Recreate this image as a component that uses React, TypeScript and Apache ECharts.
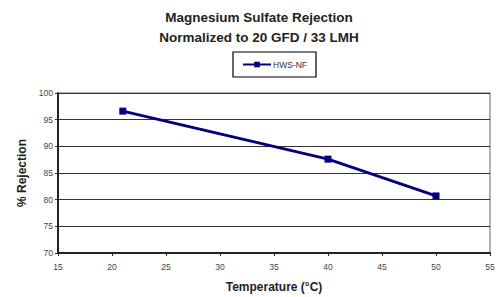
import React, { useEffect, useRef } from "react";
import * as echarts from "echarts";

const seriesName = "HWS-NF";
const temperatures = [21, 40, 50];
const rejection = [96.6, 87.6, 80.7];
const titleLines = ["Magnesium Sulfate Rejection", "Normalized to 20 GFD / 33 LMH"];
const xName = "Temperature (°C)";
const yName = "% Rejection";

export default function App() {
  const ref = useRef<HTMLDivElement>(null);
  useEffect(() => {
    if (!ref.current) return;
    const chart = echarts.init(ref.current, undefined, { renderer: "svg" });
    const font = "Liberation Sans, Arial, sans-serif";
    chart.setOption({
      animation: false,
      backgroundColor: "#fff",
      title: {
        text: titleLines.join("\n"),
        left: 254,
        textAlign: "center",
        top: 3,
        textStyle: { fontFamily: font, fontSize: 13.5, fontWeight: "bold", color: "#222", lineHeight: 19.5 },
      },
      legend: {
        top: 52,
        left: 233,
        borderColor: "#000",
        borderWidth: 1.2,
        padding: [8, 9, 8, 9],
        itemWidth: 28,
        itemHeight: 7,
        itemGap: 2,
        textStyle: { fontFamily: font, fontSize: 8.5, color: "#333", padding: [0, 0, 0, -3] },
        data: [seriesName],
      },
      grid: {
        left: 58, right: 8, top: 93, bottom: 44,
        outerBoundsMode: "none",
        containLabel: false,
        show: true, borderColor: "#999", borderWidth: 1.5,
      },
      xAxis: {
        type: "value",
        min: 15,
        max: 55,
        interval: 5,
        name: xName,
        nameLocation: "middle",
        nameGap: 28,
        nameTextStyle: { fontFamily: font, fontSize: 12, fontWeight: "bold", color: "#222" },
        axisLine: { show: true, lineStyle: { color: "#222", width: 2 } },
        axisTick: { show: true, inside: false, length: 3, lineStyle: { color: "#222" } },
        axisLabel: { fontFamily: font, fontSize: 8.5, color: "#444", margin: 9 },
        splitLine: { show: false },
      },
      yAxis: {
        type: "value",
        min: 70,
        max: 100,
        interval: 5,
        name: yName,
        nameLocation: "middle",
        nameGap: 30,
        nameTextStyle: { fontFamily: font, fontSize: 12, fontWeight: "bold", color: "#222" },
        axisLine: { show: true, lineStyle: { color: "#222", width: 2 } },
        axisTick: { show: true, inside: false, length: 3, lineStyle: { color: "#222" } },
        axisLabel: { fontFamily: font, fontSize: 8.5, color: "#444", margin: 5 },
        splitLine: { show: true, lineStyle: { color: "#333", width: 1 } },
      },
      series: [
        {
          name: seriesName,
          type: "line",
          data: temperatures.map((t, i) => [t, rejection[i]]),
          symbol: "rect",
          symbolSize: 7,
          color: "#000080",
          lineStyle: { color: "#000080", width: 3 },
          itemStyle: { color: "#000080" },
        },
      ],
    });
    return () => chart.dispose();
  }, []);
  return <div ref={ref} style={{ width: 498, height: 297, position: "absolute", left: 0, top: 0 }} />;
}
